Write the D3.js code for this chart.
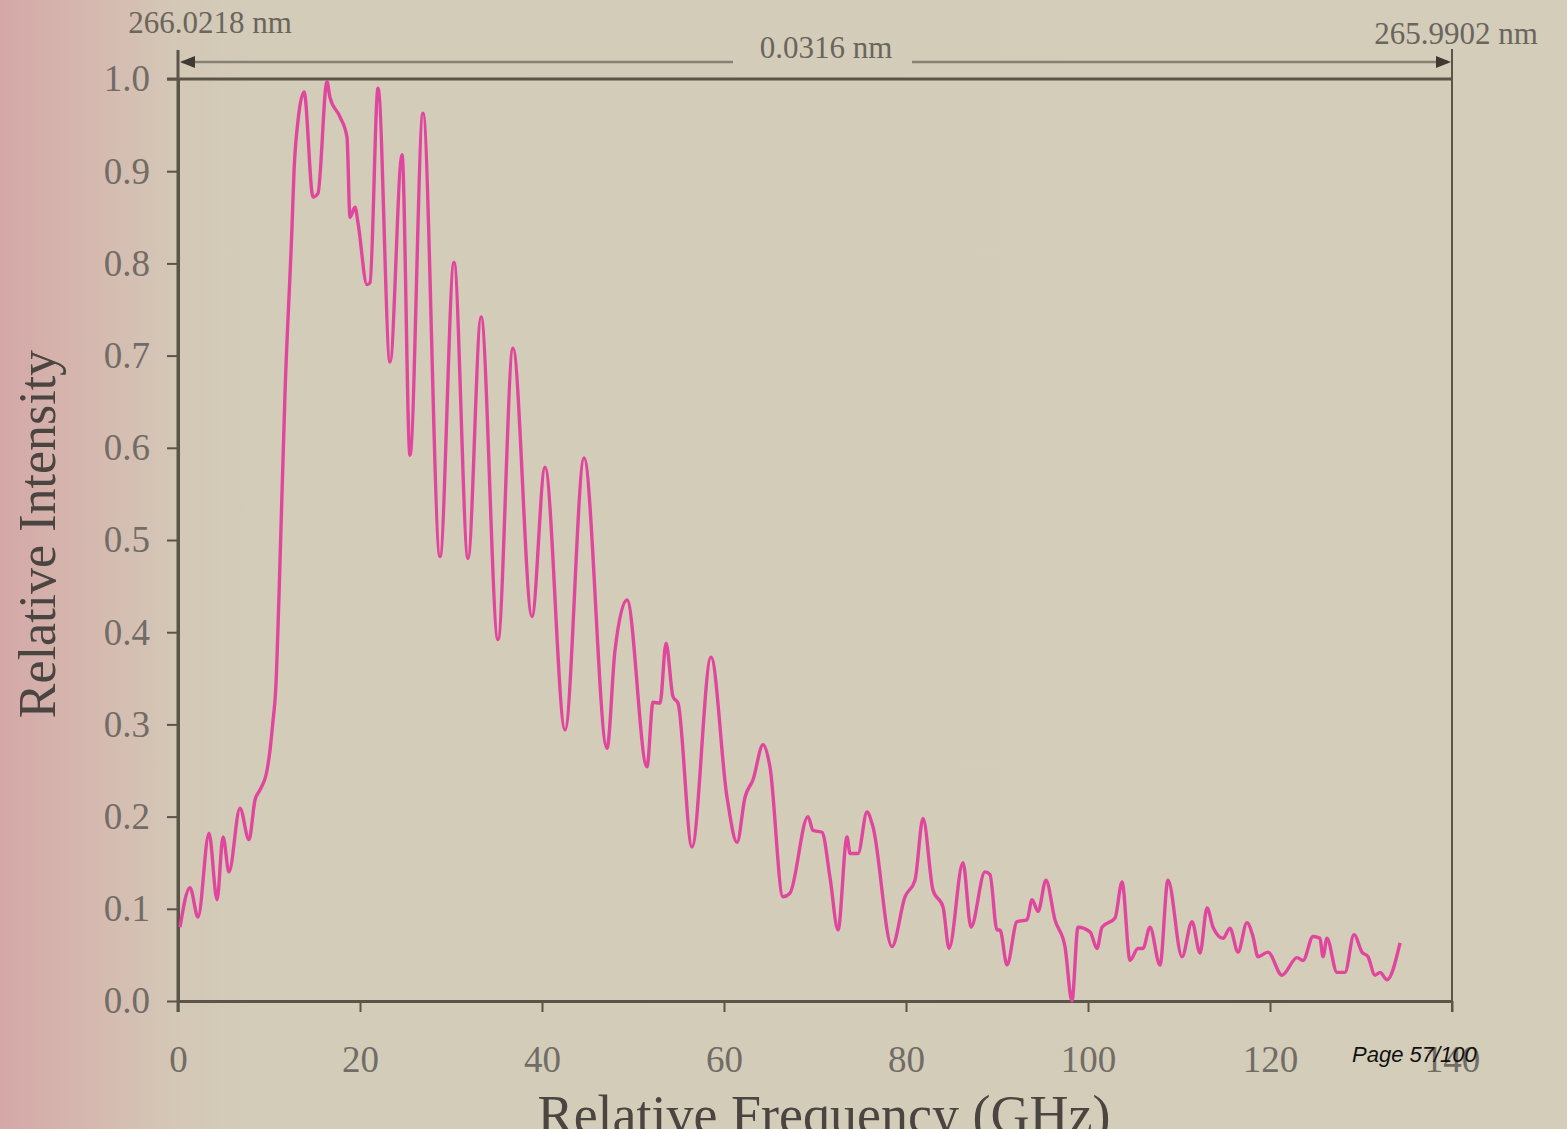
<!DOCTYPE html>
<html>
<head>
<meta charset="utf-8">
<script src="https://cdn.jsdelivr.net/npm/d3@7"></script>
<style>
  html, body { margin: 0; padding: 0; overflow: hidden; background: #d3ccb9; }
  svg { display: block; }
</style>
</head>
<body>
<svg id="chart" width="1567" height="1129"></svg>
<script>
// ---- data ----
const freqGHz = [0.22,1.32,2.20,3.41,4.29,4.95,5.60,6.81,7.80,8.46,9.01,9.78,10.11,10.40,10.75,11.10,11.76,12.53,12.75,13.19,13.85,14.84,15.38,16.37,16.70,17.80,18.57,18.90,19.45,19.78,20.77,21.10,21.98,23.30,24.62,25.49,26.92,28.79,30.33,31.87,33.30,35.16,36.81,38.90,40.33,42.53,44.62,47.14,48.02,49.34,51.54,52.20,52.97,53.63,54.40,54.95,56.48,58.57,60.33,61.43,62.31,63.19,64.29,65.05,66.48,67.25,69.23,69.78,70.77,71.65,72.53,73.52,73.85,74.73,75.71,76.37,78.46,79.89,80.99,81.87,82.97,84.07,84.73,86.26,87.14,88.68,89.23,90.00,90.33,91.10,92.20,93.30,93.85,94.51,95.38,96.37,97.47,98.24,98.90,100.22,100.99,101.54,102.97,103.74,104.62,105.49,106.04,106.81,107.91,108.79,110.33,111.43,112.31,113.08,113.74,114.84,115.60,116.48,117.47,118.13,118.68,119.78,121.32,122.97,123.63,124.73,125.49,125.82,126.26,127.36,128.24,129.23,130.11,130.77,131.54,132.09,132.86,134.29];
const intensity = [0.080,0.123,0.091,0.182,0.110,0.178,0.140,0.209,0.175,0.218,0.229,0.250,0.272,0.300,0.340,0.440,0.660,0.840,0.900,0.955,0.986,0.872,0.876,0.997,0.980,0.959,0.937,0.850,0.861,0.844,0.777,0.779,0.990,0.693,0.918,0.592,0.963,0.482,0.801,0.480,0.742,0.392,0.708,0.417,0.579,0.294,0.589,0.274,0.380,0.435,0.254,0.324,0.323,0.388,0.330,0.323,0.167,0.373,0.221,0.172,0.221,0.240,0.278,0.254,0.113,0.117,0.200,0.185,0.183,0.134,0.077,0.178,0.160,0.160,0.205,0.189,0.059,0.113,0.131,0.198,0.120,0.102,0.057,0.150,0.080,0.140,0.137,0.077,0.077,0.039,0.086,0.088,0.110,0.097,0.131,0.088,0.059,0.000,0.080,0.075,0.057,0.080,0.090,0.129,0.044,0.057,0.057,0.080,0.039,0.131,0.048,0.086,0.052,0.101,0.080,0.068,0.079,0.053,0.085,0.070,0.048,0.053,0.028,0.047,0.044,0.070,0.068,0.048,0.068,0.031,0.031,0.072,0.053,0.048,0.028,0.031,0.023,0.063];
const xTicks = [0,20,40,60,80,100,120,140];
const yTicks = [0.0,0.1,0.2,0.3,0.4,0.5,0.6,0.7,0.8,0.9,1.0];
const xTitle = "Relative Frequency (GHz)";
const yTitle = "Relative Intensity";
const leftWavelength = "266.0218 nm";
const rightWavelength = "265.9902 nm";
const spanLabel = "0.0316 nm";
const pageLabel = "Page 57/100";

// ---- layout ----
const W = 1567, H = 1129;
const plot = {left: 178, right: 1452, top: 79, bottom: 1001};
const serif = "'Liberation Serif','Times New Roman',Times,serif";
const axisColor = "#5b5549";
const tickTextColor = "#716c65";

const svg = d3.select("#chart");
const defs = svg.append("defs");
const grad = defs.append("linearGradient").attr("id","bg").attr("x1","0").attr("x2","1").attr("y1","0").attr("y2","0");
grad.append("stop").attr("offset","0").attr("stop-color","#d4a8a7");
grad.append("stop").attr("offset","0.05").attr("stop-color","#d5b6ae");
grad.append("stop").attr("offset","0.11").attr("stop-color","#d4c7b6");
grad.append("stop").attr("offset","0.16").attr("stop-color","#d3ccb9");
grad.append("stop").attr("offset","1").attr("stop-color","#d4cdba");
svg.append("rect").attr("width",W).attr("height",H).attr("fill","url(#bg)");

const x = d3.scaleLinear().domain([0,140]).range([plot.left, plot.right]);
const y = d3.scaleLinear().domain([0,1]).range([plot.bottom, plot.top]);

// x axis
const xAxis = svg.append("g").attr("transform",`translate(0,${plot.bottom})`)
  .call(d3.axisBottom(x).tickValues(xTicks).tickSize(11).tickSizeOuter(0).tickPadding(34).tickFormat(d3.format("d")));
xAxis.select(".domain").attr("stroke",axisColor).attr("stroke-width",3);
xAxis.selectAll(".tick line").attr("stroke",axisColor).attr("stroke-width",2);
xAxis.selectAll(".tick text").attr("fill",tickTextColor).style("font-family",serif).style("font-size","37px");

// y axis
const yAxis = svg.append("g").attr("transform",`translate(${plot.left},0)`)
  .call(d3.axisLeft(y).tickValues(yTicks).tickSize(11).tickSizeOuter(0).tickPadding(17).tickFormat(d3.format(".1f")));
yAxis.select(".domain").attr("stroke",axisColor).attr("stroke-width",3);
yAxis.selectAll(".tick line").attr("stroke",axisColor).attr("stroke-width",2);
yAxis.selectAll(".tick text").attr("fill",tickTextColor).style("font-family",serif).style("font-size","37px");

// frame extensions
const frame = svg.append("g").attr("stroke",axisColor).attr("fill","none");
frame.append("line").attr("x1",plot.left).attr("x2",plot.left).attr("y1",50).attr("y2",plot.bottom+11).attr("stroke-width",3);
frame.append("line").attr("x1",plot.right).attr("x2",plot.right).attr("y1",49).attr("y2",plot.bottom+11).attr("stroke-width",2);
frame.append("line").attr("x1",plot.left-11).attr("x2",plot.right).attr("y1",y(1)).attr("y2",y(1)).attr("stroke-width",3);

// span arrow
const arrowY = 62;
const arrowG = svg.append("g");
arrowG.append("line").attr("x1",plot.left+4).attr("x2",733).attr("y1",arrowY).attr("y2",arrowY).attr("stroke","#878173").attr("stroke-width",2.5);
arrowG.append("line").attr("x1",912).attr("x2",plot.right-4).attr("y1",arrowY).attr("y2",arrowY).attr("stroke","#878173").attr("stroke-width",2.5);
arrowG.append("path").attr("d",`M${plot.left+2},${arrowY} l15,-6 l0,12 z`).attr("fill","#3e3a33");
arrowG.append("path").attr("d",`M${plot.right-1},${arrowY} l-15,-6 l0,12 z`).attr("fill","#3e3a33");

svg.append("text").attr("x",826).attr("y",58).attr("text-anchor","middle")
  .style("font-family",serif).style("font-size","31px").attr("fill","#6a655d").text(spanLabel);
svg.append("text").attr("x",210).attr("y",33).attr("text-anchor","middle")
  .style("font-family",serif).style("font-size","31px").attr("fill","#6a655d").text(leftWavelength);
svg.append("text").attr("x",1456).attr("y",44).attr("text-anchor","middle")
  .style("font-family",serif).style("font-size","31px").attr("fill","#6a655d").text(rightWavelength);

// axis titles
svg.append("text").attr("transform","translate(55,534) rotate(-90)").attr("text-anchor","middle")
  .style("font-family",serif).style("font-size","52px").attr("fill","#4a4540").text(yTitle);
svg.append("text").attr("x",824).attr("y",1133).attr("text-anchor","middle")
  .style("font-family",serif).style("font-size","54px").attr("fill","#4a4540").text(xTitle);

// series line
const pts = freqGHz.map((f,i)=>[f,intensity[i]]);
const line = d3.line().x(d=>x(d[0])).y(d=>y(d[1])).curve(d3.curveMonotoneX);
svg.append("path").datum(pts).attr("d",line).attr("fill","none")
  .attr("stroke","#e0469d").attr("stroke-width",3.4).attr("stroke-linejoin","round");

// page label
svg.append("text").attr("x",1352).attr("y",1062)
  .style("font-family","'Liberation Sans',Arial,sans-serif").style("font-size","22px").style("font-style","italic")
  .attr("fill","#111").text(pageLabel);
</script>
</body>
</html>
